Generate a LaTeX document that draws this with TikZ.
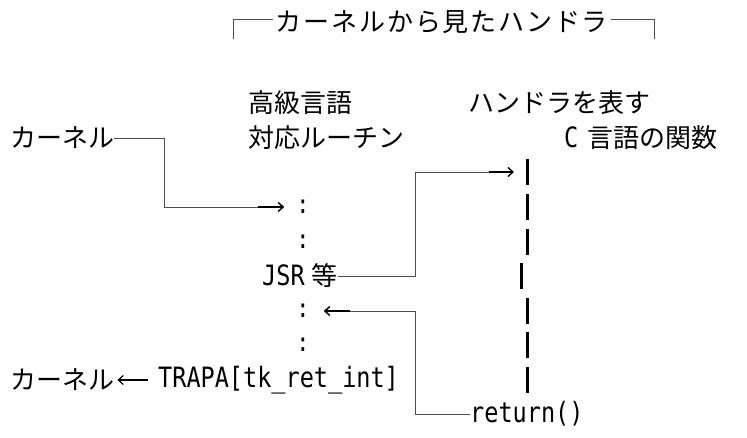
\documentclass[tikz,border=0pt]{standalone}
\usepackage{fontspec}
\setmainfont{Noto Sans CJK JP}
\newfontfamily\lat{DejaVu Sans Mono}[FakeStretch=0.84]
\usetikzlibrary{arrows.meta}
\begin{document}
\begin{tikzpicture}[x=1pt,y=-1pt,
  txt/.style={inner sep=0pt, anchor=west, font=\fontsize{26}{30}\selectfont},
  latin/.style={inner sep=0pt, anchor=west, font=\fontsize{28}{30}\selectfont\lat},
  dots/.style={inner sep=0pt, font=\fontsize{26}{30}\selectfont\lat},
  box/.style={draw=black!70, line width=1pt},
  arr/.style={draw=black, line width=1.6pt, -{Straight Barb[length=5pt,width=9pt,line width=1.4pt]}},
  thinarr/.style={draw=black, line width=1.2pt, -{Straight Barb[length=5pt,width=9pt,line width=1.2pt]}},
  bar/.style={draw=black, line width=3pt}]
\useasboundingbox (0,0) rectangle (747,437);
% title
\node[txt, anchor=center, font=\fontsize{26}{30}\selectfont\addfontfeature{LetterSpace=7}] (title) at (442,22) {カーネルから見たハンドラ};
\coordinate (tl) at (233,39);
\coordinate (tr) at (654,39);
\draw[box] (tl) |- ([xshift=-3pt,yshift=3pt]title.west);
\draw[box] (tr) |- ([xshift=3pt,yshift=3pt]title.east);
% headings
\node[txt] (hl1) at (248,103) {高級言語};
\node[txt] (hl2) at (248,138) {対応ルーチン};
\node[txt] (cf1) at (468,103) {ハンドラを表す};
\node[txt] (cf2) at (564,138) {{\fontsize{28}{30}\selectfont\lat C}\hspace{9pt}言語の関数};
% kernel entry
\node[txt] (k1) at (10,138) {カーネル};
% high level routine column
\node[dots] (c1) at (303,207) {:};
\node[dots] (c2) at (303,242) {:};
\node[txt] (jsr) at (262,276) {{\fontsize{28}{30}\selectfont\lat JSR}\hspace{7pt}等};
\node[dots] (c3) at (303,311) {:};
\node[dots] (c4) at (303,345) {:};
\node[txt] (k2) at (10,380) {カーネル};
\node[latin] (trapa) at (158,380) {TRAPA[tk\_ret\_int]};
\node[latin] (ret) at (470,414) {return()};
% handler (C function) body
\coordinate (h1) at (527,172);
\coordinate (h2) at (527,207);
\coordinate (h3) at (527,242);
\coordinate (h4) at (521,276);
\coordinate (h5) at (527,311);
\coordinate (h6) at (527,345);
\coordinate (h7) at (527,380);
\foreach \h in {h1,h2,h3,h4,h5,h6,h7}
  \draw[bar] ([yshift=-13pt]\h) -- ([yshift=13pt]\h);
% kernel -> high level routine
\coordinate (a1) at (164,207);
\draw[box] (k1.east) -| (a1) -- ([xshift=-38pt]c1.west);
\draw[arr] ([xshift=-38pt]c1.west) -- ([xshift=-12pt]c1.west);
% JSR -> handler
\coordinate (a2) at (415,172);
\draw[box] (jsr.east) -| (a2) -- ([xshift=-38pt]h1);
\draw[arr] ([xshift=-38pt]h1) -- ([xshift=-13pt]h1);
% return -> high level routine
\coordinate (a3) at (415,311);
\draw[box] (ret.west) -| (a3) -- ([xshift=40pt]c3.east);
\draw[arr] ([xshift=40pt]c3.east) -- ([xshift=14pt]c3.east);
% TRAPA -> kernel
\draw[thinarr] ([xshift=-10pt]trapa.west) -- ([xshift=3pt]k2.east);
\end{tikzpicture}
\end{document}
